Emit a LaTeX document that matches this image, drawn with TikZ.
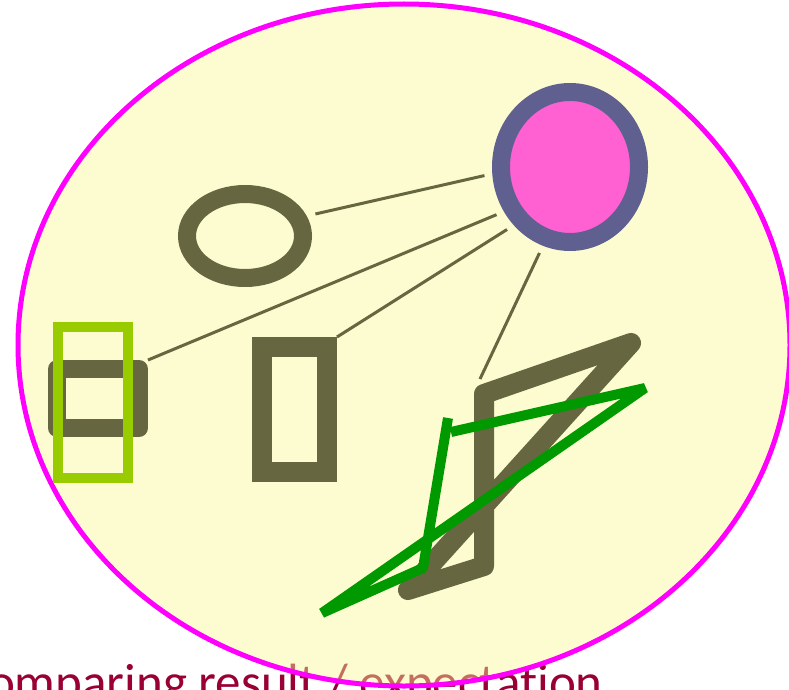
\documentclass[tikz,border=0pt]{standalone}
\usepackage{fontspec}
\setmainfont[Ligatures=NoCommon]{Carlito}
\usetikzlibrary{shapes.geometric}

\definecolor{fieldmagenta}{RGB}{255,0,255}
\definecolor{fieldyellow}{RGB}{248,248,150}
\definecolor{captionred}{RGB}{153,0,51}
\definecolor{shapeolive}{RGB}{102,102,64}
\definecolor{hubslate}{RGB}{96,96,144}
\definecolor{hubpink}{RGB}{255,97,210}
\definecolor{selectlime}{RGB}{153,204,0}
\definecolor{estgreen}{RGB}{0,153,0}

\begin{document}
\begin{tikzpicture}[x=1pt,y=-1pt,
  figure/.style={draw=shapeolive,line width=18pt,inner sep=0pt},
  link/.style={draw=shapeolive,line width=3pt,shorten <=8pt},
  estimate/.style={draw=estgreen,line width=10pt,line join=bevel}]

\useasboundingbox (0,0) rectangle (789,690);
\clip (0,0) rectangle (789,690);

% Caption (partly under the field)
\node[anchor=base east,inner sep=0pt,text=captionred,
  font=\fontsize{51}{61}\selectfont] (caption) at (603,699)
  {Comparing result / expectation};

% Field
\draw[draw=fieldmagenta,line width=5pt,fill=fieldyellow,fill opacity=0.45]
  (404,345) ellipse [x radius=386,y radius=341];

% Shapes
\node[ellipse,figure,minimum width=116pt,minimum height=84pt] (oval) at (245,236) {};
\node[ellipse,draw=hubslate,fill=hubpink,line width=18pt,inner sep=0pt,
  minimum width=138pt,minimum height=150pt] (hub) at (570,167) {};
\node[rectangle,figure,line join=round,minimum width=82pt,minimum height=59pt] (lbox) at (98,398.5) {};
\node[rectangle,figure,line width=20pt,minimum width=65pt,minimum height=125pt] (mbox) at (294.5,409.5) {};

% Bow-tie
\coordinate (z1) at (484,394);
\coordinate (z2) at (631,343);
\coordinate (z3) at (408,590);
\coordinate (z4) at (484,566);
\coordinate (ztip) at (480,379);
\draw[draw=shapeolive,line width=20pt,line join=round] (z1) -- (z2) -- (z3) -- (z4) -- cycle;

% Selection frame
\node[rectangle,draw=selectlime,line width=10pt,inner sep=0pt,
  minimum width=70pt,minimum height=151pt] (sel) at (93,402.5) {};

% Links from the hub
\draw[link,shorten >=9pt] (hub.185) -- (oval.18);
\draw[link] (hub.214) -- (lbox.north east);
\draw[link] (hub.226) -- (mbox.north east);
\draw[link] (hub.251) -- (ztip);

% Estimate
\draw[estimate] (448,418) -- (423,568) -- (322,613) -- (645,388) -- (451,432);

\end{tikzpicture}
\end{document}
